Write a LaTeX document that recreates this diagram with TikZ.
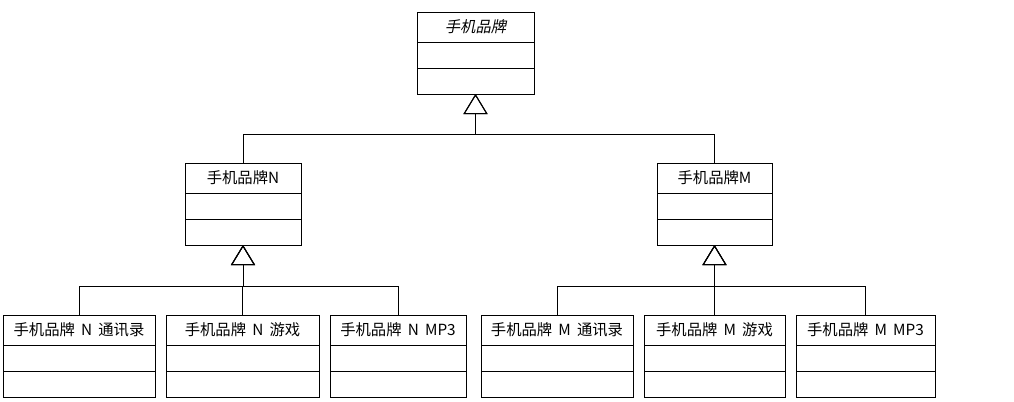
\documentclass[tikz,border=0pt]{standalone}
\usepackage{fontspec}
\setmainfont[WordSpace=1.8]{Noto Sans CJK SC}
\newfontfamily\cjkslant[FakeSlant=0.2]{Noto Sans CJK SC}
\usetikzlibrary{arrows.meta, positioning, calc}
\tikzset{
  every picture/.style={line width=0.75pt, x=0.75pt, y=-0.75pt},
  clsname/.style={draw, rectangle, outer sep=0pt, inner sep=0pt, minimum height=22.5pt, font=\fontsize{11.5}{13}\selectfont},
  clspart/.style={draw, rectangle, outer sep=0pt, inner sep=0pt, minimum height=19.5pt},
  gen/.style={-{Triangle[open, length=15pt, width=18pt]}, draw=black},
}
% name, x, y, width (px), title
\newcommand{\umlclass}[5]{%
  \node[clsname, minimum width=#4*0.75pt] (#1) at (#2,#3) {#5};
  \node[clspart, minimum width=#4*0.75pt, below=0pt of #1] (#1a) {};
  \node[clspart, minimum width=#4*0.75pt, below=0pt of #1a] (#1b) {};
}

\begin{document}
\begin{tikzpicture}
  \useasboundingbox (0,0) rectangle (1014,401);
  \umlclass{brand}{475.5}{27}{117}{\cjkslant 手机品牌}
  \umlclass{brandN}{243}{178}{116}{手机品牌N}
  \umlclass{brandM}{714.5}{178}{115}{手机品牌M}
  \foreach \i/\x/\w/\t in {1/79/152/手机品牌 N 通讯录, 2/242.5/153/手机品牌 N 游戏, 3/398/136/手机品牌 N MP3,
      4/557/152/手机品牌 M 通讯录, 5/714.5/141/手机品牌 M 游戏, 6/865.5/139/手机品牌 M MP3}
    \umlclass{c\i}{\x}{330}{\w}{\t}
  % generalisation buses
  \coordinate (bus) at ($(brandb.south)+(0,40)$);
  \coordinate (busN) at ($(brandNb.south)+(0,41)$);
  \coordinate (busM) at ($(brandMb.south)+(0,41)$);
  \draw[gen] (brandN.north) |- (bus) -- (brandb.south);
  \draw[gen] (brandM.north) |- (bus) -- (brandb.south);
  \foreach \i in {1,2,3} \draw[gen] (c\i.north) |- (busN) -- (brandNb.south);
  \foreach \i in {4,5,6} \draw[gen] (c\i.north) |- (busM) -- (brandMb.south);
\end{tikzpicture}
\end{document}
